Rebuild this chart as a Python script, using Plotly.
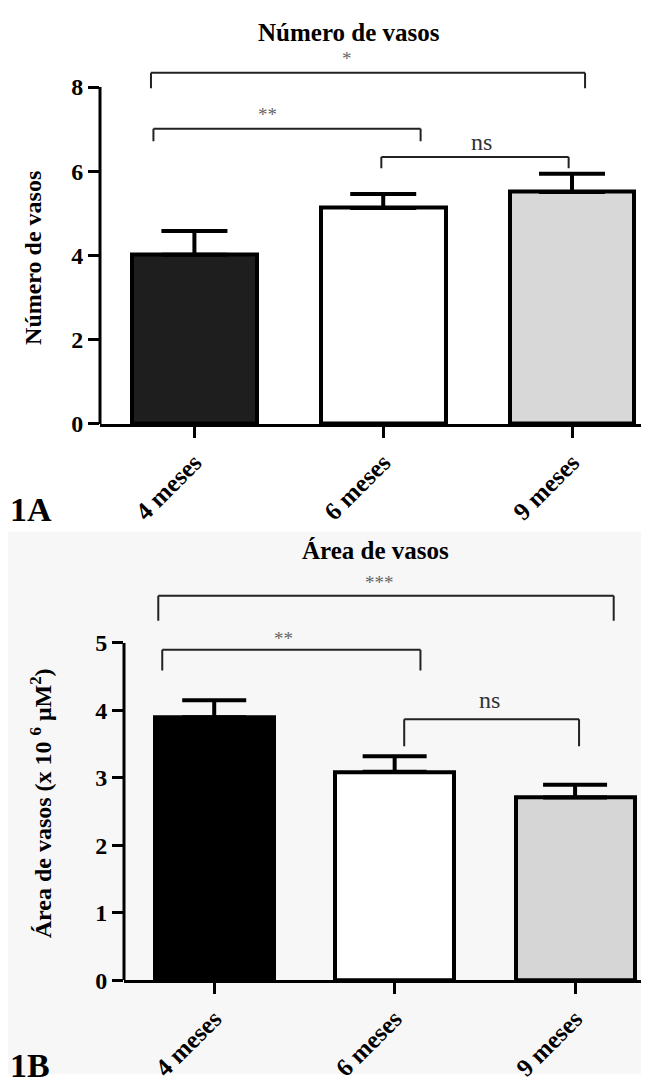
import plotly.graph_objects as go

# ---------------- data ----------------
categories = ["4 meses", "6 meses", "9 meses"]

vasos_mean = [4.02, 5.13, 5.51]
vasos_err = [0.56, 0.33, 0.43]

area_mean = [3.90, 3.09, 2.71]
area_err = [0.25, 0.23, 0.19]

vasos_ticks = [0, 2, 4, 6, 8]
area_ticks = [0, 1, 2, 3, 4, 5]

# significance brackets (x in category-index units, y in data units)
vasos_sig_labels = ["*", "**", "ns"]
vasos_sig_x0 = [-0.23, -0.217, 0.99]
vasos_sig_x1 = [2.069, 1.198, 1.982]
vasos_sig_top = [8.34, 7.01, 6.34]
vasos_sig_foot = [7.97, 6.71, 6.07]
vasos_sig_text_x = [0.808, 0.389, 1.523]
vasos_sig_text_y = [8.77, 7.44, 6.64]

area_sig_labels = ["***", "**", "ns"]
area_sig_x0 = [-0.310, -0.288, 1.053]
area_sig_x1 = [2.214, 1.143, 2.022]
area_sig_top = [5.70, 4.90, 3.87]
area_sig_foot = [5.33, 4.59, 3.47]
area_sig_text_x = [0.918, 0.382, 1.527]
area_sig_text_y = [5.95, 5.13, 4.12]

# ---------------- style ----------------
W, H = 649, 1079
SERIF = "Liberation Serif"
top_colors = ["#1e1e1e", "#ffffff", "#d8d8d8"]
bot_colors = ["#000000", "#ffffff", "#d6d6d6"]
xpos = list(range(len(categories)))


def py(px):
    return 1 - px / H


fig = go.Figure()

fig.add_trace(go.Bar(
    x=xpos, y=vasos_mean, width=0.66,
    marker=dict(color=top_colors, line=dict(color="black", width=4)),
    error_y=dict(type="data", array=vasos_err, arrayminus=[0] * 3, symmetric=False,
                 color="black", thickness=4, width=33),
    xaxis="x", yaxis="y", showlegend=False, hoverinfo="skip",
))
fig.add_trace(go.Bar(
    x=xpos, y=area_mean, width=0.66,
    marker=dict(color=bot_colors, line=dict(color="black", width=4)),
    error_y=dict(type="data", array=area_err, arrayminus=[0] * 3, symmetric=False,
                 color="black", thickness=4, width=32),
    xaxis="x2", yaxis="y2", showlegend=False, hoverinfo="skip",
))

tickfont = dict(family=SERIF, size=24, color="black", weight="bold")
xtickfont = dict(family=SERIF, size=25, color="black", weight="bold")

fig.update_layout(
    width=W, height=H, autosize=False,
    margin=dict(l=0, r=0, t=0, b=0),
    paper_bgcolor="white", plot_bgcolor="rgba(0,0,0,0)",
    bargap=0,
    xaxis=dict(domain=[92 / W, 1], range=[-0.5, 2.45], tickvals=xpos, ticktext=categories,
               tickangle=-45, tickfont=xtickfont, showline=True, linewidth=3, linecolor="black",
               ticks="outside", ticklen=11, tickwidth=3, tickcolor="black",
               showgrid=False, zeroline=False, anchor="y"),
    yaxis=dict(domain=[py(421), py(35)], range=[0, (421 - 35) / 42.625], tickvals=vasos_ticks,
               tickfont=tickfont, showline=False, ticks="outside", ticklen=11, tickwidth=3,
               tickcolor="black", showgrid=False, zeroline=False, anchor="x"),
    xaxis2=dict(domain=[116 / W, 1], range=[-0.5, 2.454], tickvals=xpos, ticktext=categories,
                tickangle=-45, tickfont=xtickfont, showline=True, linewidth=3, linecolor="black",
                ticks="outside", ticklen=11, tickwidth=3, tickcolor="black",
                showgrid=False, zeroline=False, anchor="y2"),
    yaxis2=dict(domain=[py(984.2), py(560)], range=[0, (984.2 - 560) / 68.3], tickvals=area_ticks,
                tickfont=tickfont, showline=False, ticks="outside", ticklen=11, tickwidth=3,
                tickcolor="black", showgrid=False, zeroline=False, anchor="x2"),
)

shapes = []
# light grey scan background of lower panel
shapes.append(dict(type="rect", xref="paper", yref="paper", x0=0, x1=1, y0=0, y1=py(530),
                   fillcolor="#f7f7f7", line=dict(width=0), layer="below"))
# y-axis lines (only up to last tick)
shapes.append(dict(type="line", xref="x domain", yref="y", x0=0, x1=0, y0=0, y1=vasos_ticks[-1],
                   line=dict(color="black", width=3)))
shapes.append(dict(type="line", xref="x2 domain", yref="y2", x0=0, x1=0, y0=0, y1=area_ticks[-1],
                   line=dict(color="black", width=3)))

annotations = []


def add_brackets(xr, yr, x0s, x1s, tops, feet, labels, tx, ty):
    for a, b, t, f, lab, lx, ly in zip(x0s, x1s, tops, feet, labels, tx, ty):
        for seg in ((a, f, a, t), (a, t, b, t), (b, t, b, f)):
            shapes.append(dict(type="line", xref=xr, yref=yr, x0=seg[0], y0=seg[1],
                               x1=seg[2], y1=seg[3], line=dict(color="#222222", width=2)))
        if lab == "ns":
            font = dict(family=SERIF, size=24, color="#333333")
            shift = 2
        else:
            font = dict(family=SERIF, size=19, color="#666666")
            shift = -4
        annotations.append(dict(x=lx, y=ly, xref=xr, yref=yr, text=lab, showarrow=False,
                                xanchor="center", yanchor="middle", font=font, yshift=shift))


add_brackets("x", "y", vasos_sig_x0, vasos_sig_x1, vasos_sig_top, vasos_sig_foot,
             vasos_sig_labels, vasos_sig_text_x, vasos_sig_text_y)
add_brackets("x2", "y2", area_sig_x0, area_sig_x1, area_sig_top, area_sig_foot,
             area_sig_labels, area_sig_text_x, area_sig_text_y)

bold = dict(family=SERIF, color="black", weight="bold")


def label(x, y, text, size, angle=0):
    return dict(x=x / W, y=py(y), xref="paper", yref="paper", text=text, showarrow=False,
                xanchor="center", yanchor="middle", textangle=angle, font=dict(bold, size=size))


annotations += [
    label(341, 25, "Número de vasos", 25),
    label(367, 549, "Área de vasos", 25),
    label(25, 253, "Número de vasos", 24, -90),
    label(33, 805, "Área de vasos (x 10 <sup>6</sup> μM<sup>2</sup>)", 24, -90),
    label(23, 508, "1A", 34),
    label(22, 1070, "1B", 34),
]

fig.update_layout(shapes=shapes, annotations=annotations)

fig.write_html("out.html")
